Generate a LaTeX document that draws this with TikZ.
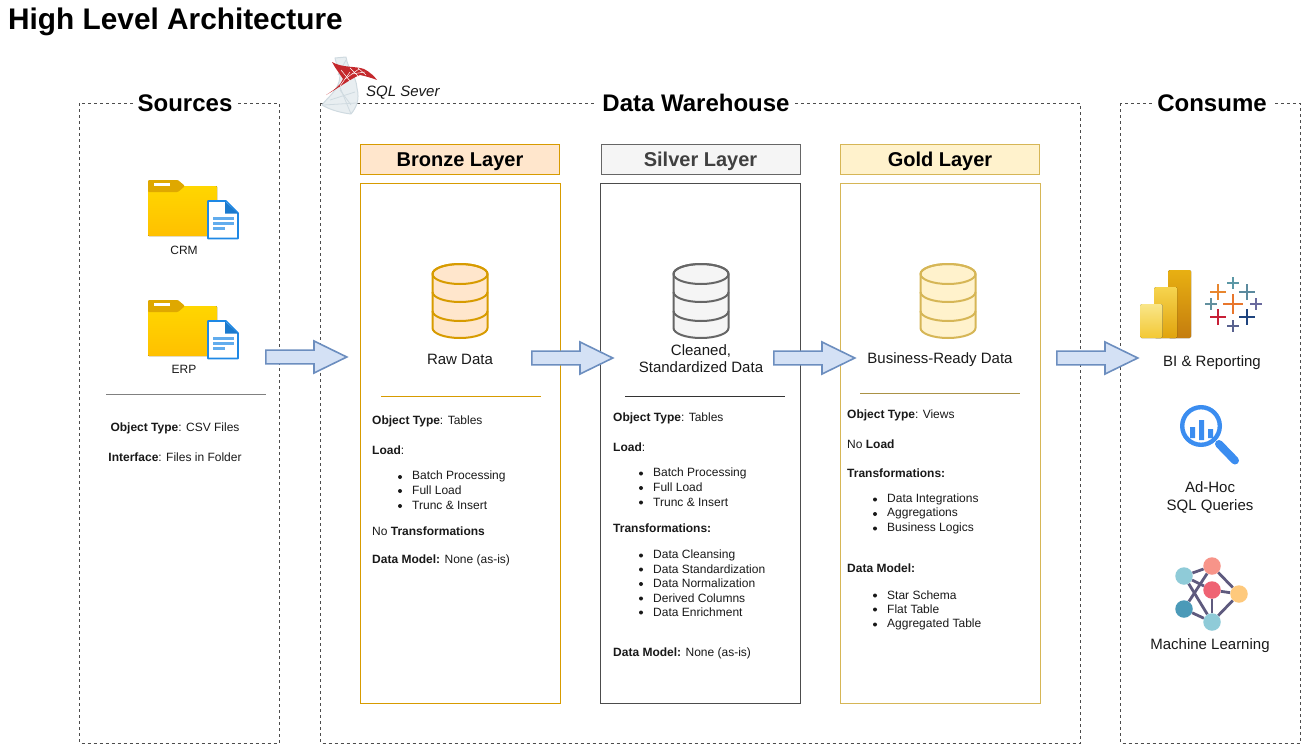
\documentclass[tikz,border=0pt]{standalone}
\usepackage{fontspec}
\setmainfont{Liberation Sans}
\usetikzlibrary{positioning, shapes.arrows, backgrounds}
\definecolor{bronzefill}{HTML}{FFE6CC}
\definecolor{bronzeline}{HTML}{D79B00}
\definecolor{silverfill}{HTML}{F5F5F5}
\definecolor{silverline}{HTML}{666666}
\definecolor{goldfill}{HTML}{FFF2CC}
\definecolor{goldline}{HTML}{D6B656}
\definecolor{arrowfill}{HTML}{D4E1F5}
\definecolor{arrowline}{HTML}{6C8EBF}
\definecolor{docblue}{HTML}{1E88E5}
\definecolor{linkline}{HTML}{5E5A7E}
\definecolor{FolderA}{HTML}{FFD600}
\definecolor{FolderB}{HTML}{FFC000}
\definecolor{FolderTab}{HTML}{DFA800}
\definecolor{magblue}{HTML}{3B8DF0}
\definecolor{biA}{HTML}{E8B012}
\definecolor{biB}{HTML}{C47C0E}
\definecolor{biC}{HTML}{F6D44E}
\definecolor{biD}{HTML}{E0A30C}
\definecolor{biE}{HTML}{F9E689}
\definecolor{biF}{HTML}{F3C835}
\definecolor{mlyellow}{HTML}{FEC97C}
\definecolor{mlsalmon}{HTML}{F79489}
\definecolor{mlpale}{HTML}{8FCBD8}
\definecolor{mlred}{HTML}{EF6373}
\definecolor{mlblue}{HTML}{4B9AB8}
\definecolor{sqlgrey}{HTML}{CFDAE0}
\definecolor{sqlpale}{HTML}{E8EEF1}
\definecolor{sqlred}{HTML}{C4282C}
\tikzset{
  zone/.style={draw=black!70,dash pattern=on 3pt off 3pt,line width=.8pt},
  zonetitle/.style={fill=white,inner xsep=5pt,inner ysep=1pt,font=\fontsize{24}{24}\selectfont\bfseries},
  layerhead/.style={draw=#1,line width=1pt,minimum width=199pt,minimum height=30pt,inner sep=0pt,
    text height=14.3pt,text depth=0pt,font=\fontsize{20}{20}\selectfont\bfseries},
  layerbody/.style={draw=#1,line width=1pt,minimum width=200pt,minimum height=520pt,inner sep=0pt},
  note/.style={anchor=west,inner sep=0pt,yshift=-.6pt,font=\fontsize{12}{14}\selectfont,text=black!90},
  dot/.style={circle,fill=black!90,inner sep=0pt,yshift=-1pt,minimum size=4pt},
  caption/.style={align=center,inner sep=0pt,yshift=-1.5pt,font=\fontsize{15}{18}\selectfont,text=black!90},
  flow/.style={single arrow,anchor=tail,draw=arrowline,fill=arrowfill,line width=1.6pt,minimum height=81pt,minimum width=32pt,
    inner xsep=0pt,inner ysep=6pt,single arrow head extend=9pt,single arrow tip angle=52,single arrow head indent=0pt},
  bubble/.style={circle,fill=#1,minimum size=17.5pt,inner sep=0pt},
  link/.style={draw=linkline,line width=2.8pt},
  pics/dbstack/.style n args={2}{code={
    \draw[fill=#1,draw=#2,line width=2pt] (-27.5,-27) arc (180:360:27.5 and 10) -- (27.5,27) arc (0:180:27.5 and 10) -- cycle;
    \draw[draw=#2,line width=2pt] (-27.5,-27) arc (180:0:27.5 and 10);
    \draw[draw=#2,line width=2pt] (-27.5,-27) arc (180:360:27.5 and 10);
    \draw[draw=#2,line width=2pt] (-27.5,-9) arc (180:0:27.5 and 10);
    \draw[draw=#2,line width=2pt] (-27.5,10) arc (180:0:27.5 and 10);
  }},
  pics/csvfolder/.style={code={
    % folder
    \fill[top color=FolderA,bottom color=FolderB,rounded corners=1pt] (0,6) rectangle (69,56);
    \fill[FolderTab,rounded corners=1pt] (0,12) -- (0,0) -- (30,0) -- (37,6) -- (30,12) -- cycle;
    \fill[white] (6,3) rectangle (22,6);
    % page
    \draw[fill=white,draw=docblue,line width=1.6pt,line join=round] (60,21) -- (78,21) -- (90,33) -- (90,58.5) -- (60,58.5) -- cycle;
    \fill[docblue!90!black] (77,21.5) -- (90,33.5) -- (77,33.5) -- cycle;
    \foreach \yy/\xx in {38.5/86,43.5/86,48.5/77}
      \draw[line width=2.2pt,color=docblue!70] (65,\yy) -- (\xx,\yy);
  }}
}
\begin{document}
\begin{tikzpicture}[x=1pt,y=-1pt]
\useasboundingbox (0,0) rectangle (1301,744);
\node[anchor=west,inner sep=0pt,font=\fontsize{29.8}{30}\selectfont\bfseries] (title) at (8,22) {High Level Architecture};

% zones
\draw[zone] (79.5,103) rectangle (279,743);
\draw[zone] (320.5,103) rectangle (1080,743);
\draw[zone] (1120.5,103) rectangle (1300,743);
\node[zonetitle] (sources) at (185,103) {Sources};
\node[zonetitle] (warehouse) at (696,103) {Data Warehouse};
\node[zonetitle] (consume) at (1212,103) {Consume};

% sql server logo
\draw[draw=sqlgrey,fill=sqlpale,line width=1pt,line join=round]
  (335,58) -- (346,57) .. controls (348,70) and (356,75) .. (357,88) .. controls (360,100) and (356,108) .. (351,114)
  .. controls (342,113) and (330,110) .. (322,105) .. controls (327,98) and (336,92) .. (339,82) .. controls (342,72) and (336,65) .. (335,58) -- cycle;
\foreach \ax/\ay/\bx/\by in {339/85/351/114,330/100/355/92,324/105/356/103,346/60/338/75,340/90/351/105}
  \draw[sqlgrey,line width=.8pt] (\ax,\ay) -- (\bx,\by);
\fill[sqlred] (332,62) .. controls (342,68) and (356,66) .. (364,69) .. controls (370,72) and (375,77) .. (377,80)
  .. controls (372,78) and (365,76) .. (360,75) .. controls (352,78) and (340,87) .. (326,95)
  .. controls (334,90) and (341,85) .. (343,79) .. controls (340,74) and (335,68) .. (332,62) -- cycle;
\foreach \ax/\ay/\bx/\by in {341/70/350/81,350/68/358/76,358/68/366/75,345/79/359/69,352/74/365/72,340/86/350/72}
  \draw[white,line width=.5pt] (\ax,\ay) -- (\bx,\by);
\node[anchor=west,inner sep=0pt,font=\fontsize{15}{15}\selectfont\itshape,text=black!90] (sqlsever) at (366,92.5) {SQL Sever};

% layers
\node[layerhead=bronzeline,fill=bronzefill] (bronzehead) at (460,159) {Bronze Layer};
\node[layerhead=silverline,fill=silverfill,text=black!75] (silverhead) at (700.5,159) {Silver Layer};
\node[layerhead=goldline,fill=goldfill] (goldhead) at (940,159) {Gold Layer};
\node[layerbody=bronzeline] (bronzebody) at (460.5,443.5) {};
\node[layerbody=black!70] (silverbody) at (700.5,443.5) {};
\node[layerbody=goldline] (goldbody) at (940,443.5) {};

% sources
\pic at (148,180) {csvfolder};
\pic at (148,300) {csvfolder};
\node[note,anchor=center] (crm) at (184,249.5) {CRM};
\node[note,anchor=center] (erp) at (184,368.5) {ERP};
\draw[gray,line width=1pt] (106,394.5) -- (266,394.5);
\node[note,anchor=center] (srctype) at (175,428) {\textbf{Object Type}: CSV Files};
\node[note,anchor=center] (srciface) at (175,457) {\textbf{Interface}: Files in Folder};

% databases
\pic at (460,301) {dbstack={bronzefill}{bronzeline}};
\pic at (701,301) {dbstack={silverfill}{silverline}};
\pic at (948,301) {dbstack={goldfill}{goldline}};
\node[caption] (rawdata) at (460,358) {Raw Data};
\node[caption,font=\fontsize{15}{17}\selectfont] (cleandata) at (701,357) {Cleaned,\\Standardized Data};
\node[caption] (readydata) at (940,358) {Business-Ready Data};
\draw[bronzeline,line width=1pt] (381,396) -- (541,396);
\draw[black!80,line width=1pt] (625,396) -- (785,396);
\draw[goldline!80!black,line width=1pt] (860,393.5) -- (1020,393.5);

% bronze text
\node[note] (bt1) at (372,421) {\textbf{Object Type}: Tables};
\node[note] (bt2) at (372,450) {\textbf{Load}:};
\foreach \yy/\txt in {476/Batch Processing,490/Full Load,505/Trunc \& Insert}{
  \node[dot] at (400,\yy) {};
  \node[note] at (412,\yy) {\txt};
}
\node[note] (bt3) at (372,531) {No \textbf{Transformations}};
\node[note] (bt4) at (372,559.5) {\textbf{Data Model:} None (as-is)};

% silver text
\node[note] (st1) at (613,417.5) {\textbf{Object Type}: Tables};
\node[note] (st2) at (613,446.5) {\textbf{Load}:};
\foreach \yy/\txt in {472.5/Batch Processing,487/Full Load,501.5/Trunc \& Insert,554.5/Data Cleansing,568.5/Data Standardization,583/Data Normalization,597.5/Derived Columns,611.5/Data Enrichment}{
  \node[dot] at (641,\yy) {};
  \node[note] at (653,\yy) {\txt};
}
\node[note] (st3) at (613,527.5) {\textbf{Transformations:}};
\node[note] (st4) at (613,652.5) {\textbf{Data Model:} None (as-is)};

% gold text
\node[note] (gt1) at (847,414.5) {\textbf{Object Type}: Views};
\node[note] (gt2) at (847,443.5) {No \textbf{Load}};
\node[note] (gt3) at (847,472.5) {\textbf{Transformations:}};
\foreach \yy/\txt in {498.5/Data Integrations,513/Aggregations,527.5/Business Logics,594.5/Star Schema,608.5/Flat Table,623.5/Aggregated Table}{
  \node[dot] at (875,\yy) {};
  \node[note] at (887,\yy) {\txt};
}
\node[note] (gt4) at (847,567.5) {\textbf{Data Model:}};

% arrows
\node[flow] (flowa) at (265,357) {};
\node[flow] (flowb) at (531,358) {};
\node[flow] (flowc) at (773,358) {};
\node[flow] (flowd) at (1056,358) {};

% power bi
\fill[rounded corners=1.5pt,top color=biA,bottom color=biB] (1168,270) rectangle (1191,338);
\fill[rounded corners=1.5pt,top color=biC,bottom color=biD] (1154,287) rectangle (1177,338);
\fill[rounded corners=1.5pt,top color=biE,bottom color=biF] (1140,304) rectangle (1162.5,338);
% tableau
\foreach \cx/\cy/\cs/\cc in {1218/292/8/E8862E,1233/283/6/5B97A5,1247/292/8/5B8A9E,1211/304/6/62909F,1233/304/10/E8762C,1256/304/6/6A6A9E,1218/317/8/C72037,1247/317/8/1F447E,1233/326/6/59628F}{
  \definecolor{crosscol}{HTML}{\cc}
  \draw[crosscol,line width=2.6pt] (\cx-\cs,\cy) -- (\cx+\cs,\cy) (\cx,\cy-\cs) -- (\cx,\cy+\cs);
}
\node[caption] (bireport) at (1212,361) {BI \& Reporting};

% magnifier
\draw[magblue,line width=4.4pt] (1201,426) circle (18.8);
\draw[magblue,line width=8pt,line cap=round] (1219,444) -- (1235,460.5);
\fill[magblue] (1190,427) rectangle (1195,438) (1199,420) rectangle (1204,440) (1208,429) rectangle (1213,438);
\node[caption] (adhoc) at (1210,496) {Ad-Hoc\\SQL Queries};

% network
\node[bubble=mlyellow] (mlright) at (1239,594) {};
\node[bubble=mlsalmon] (mltop) at (1212,566) {};
\node[bubble=mlpale] (mlleft) at (1184,576) {};
\node[bubble=mlred] (mlmid) at (1212,590) {};
\node[bubble=mlblue] (mlbl) at (1184,609) {};
\node[bubble=mlpale] (mlbot) at (1212,622) {};
\begin{scope}[on background layer]
\foreach \aa/\bb in {mlleft/mltop,mlleft/mlmid,mlleft/mlbot,mltop/mlbl,mltop/mlright,mlmid/mlright,mlmid/mlbot,mlbl/mlbot,mlbot/mlright}
  \draw[link] (\aa) -- (\bb);
\end{scope}
\node[caption] (mlearn) at (1210,644) {Machine Learning};
\end{tikzpicture}
\end{document}
